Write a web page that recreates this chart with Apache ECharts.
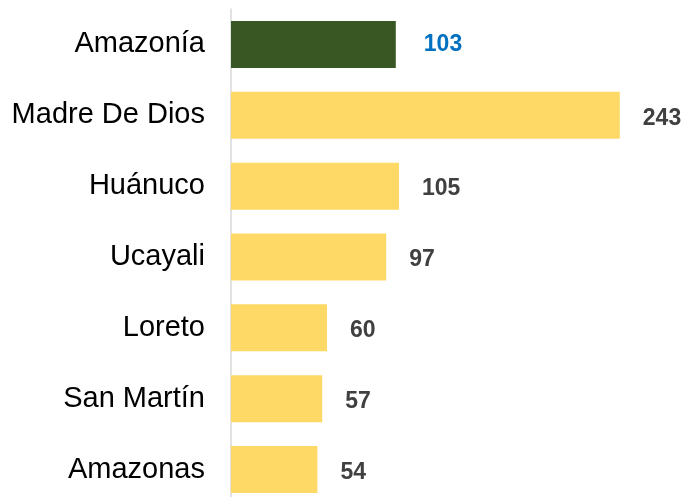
<!DOCTYPE html>
<html>
<head>
<meta charset="utf-8">
<script src="https://cdn.jsdelivr.net/npm/echarts@6/dist/echarts.min.js"></script>
<style>
    html, body { margin: 0; padding: 0; background: #fff; overflow: hidden; }
    /* la imagen original corta la última barra, por eso el lienzo es más alto que la ventana */
    #chart { width: 687px; height: 510px; }
</style>
</head>
<body>
<div id="chart"></div>
<script>
// datos de la imagen, de arriba hacia abajo
const regiones = ['Amazonía', 'Madre De Dios', 'Huánuco', 'Ucayali', 'Loreto', 'San Martín', 'Amazonas'];
const valores = [103, 243, 105, 97, 60, 57, 54];
const destacado = 'Amazonía';

const fuente = '"Liberation Sans", Arial, sans-serif';

const barras = valores.map((v, i) => {
    const esTotal = regiones[i] === destacado;
    return {
        value: v,
        itemStyle: { color: esTotal ? '#385723' : '#ffd966' },
        label: esTotal
            ? { color: '#0070c0', offset: [5, 0] }
            : { color: '#404040', offset: [0, 3] }
    };
});

const chart = echarts.init(document.getElementById('chart'));
chart.setOption({
    animation: false,
    grid: {
        left: 231,
        top: 9,
        width: 448,
        height: 496
    },
    xAxis: {
        type: 'value',
        min: 0,
        max: 280,
        show: false
    },
    yAxis: {
        type: 'category',
        inverse: true,
        data: regiones,
        axisTick: { show: false },
        axisLine: { show: true, lineStyle: { color: '#d9d9d9', width: 1.5 } },
        axisLabel: {
            margin: 26,
            fontSize: 29,
            fontFamily: fuente,
            color: '#000'
        }
    },
    series: [
        {
            type: 'bar',
            data: barras,
            barWidth: 47,
            label: {
                show: true,
                position: 'right',
                distance: 23,
                fontSize: 23,
                fontWeight: 'bold',
                fontFamily: fuente
            }
        }
    ]
});
</script>
</body>
</html>
